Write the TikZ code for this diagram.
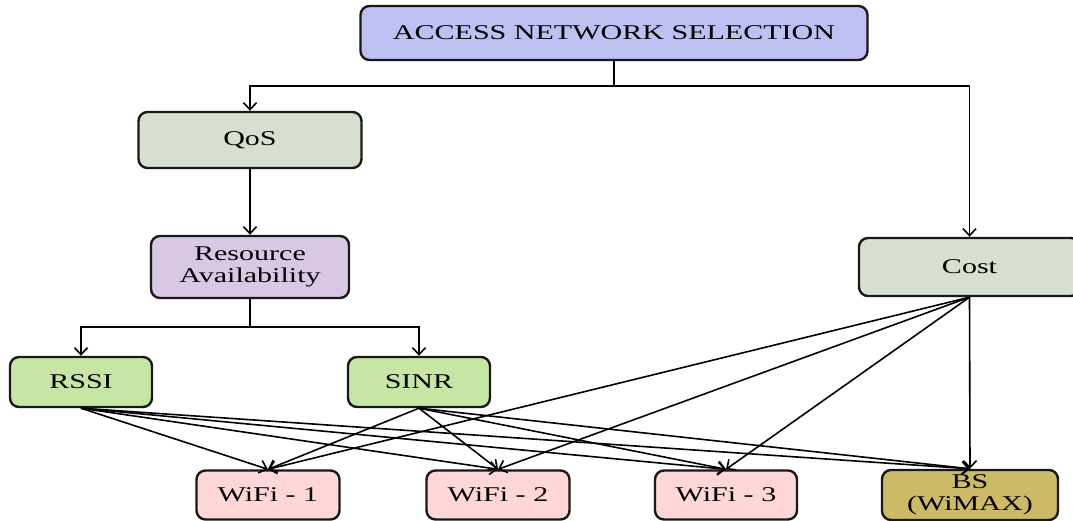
\documentclass[tikz,border=0pt]{standalone}
\usepackage{fontspec}
\setmainfont{Liberation Serif}[FakeStretch=1.43]
\usetikzlibrary{arrows.meta}
\definecolor{ansfill}{RGB}{191,192,242}
\definecolor{qosfill}{RGB}{215,224,206}
\definecolor{rafill}{RGB}{217,200,228}
\definecolor{sigfill}{RGB}{199,230,166}
\definecolor{wififill}{RGB}{255,215,215}
\definecolor{bsfill}{RGB}{205,186,102}
\tikzset{
  box/.style={draw=black!90, line width=2.4pt, rounded corners=9pt, align=center,
    font=\fontsize{21}{22}\selectfont, inner sep=0pt},
  arr/.style={line width=1.6pt, -{Straight Barb[length=7pt,width=13pt,line width=1.6pt]}},
}
\begin{document}
\begin{tikzpicture}[x=1pt,y=-1pt]
\useasboundingbox (0,0) rectangle (1073,521);
\begin{scope}
\clip (0,0) rectangle (1073,521);
\node[box, fill=ansfill, minimum width=507pt, minimum height=54pt] (ans) at (614,33) {ACCESS NETWORK SELECTION};
\node[box, fill=qosfill, minimum width=223pt, minimum height=56pt] (qos) at (250,140) {QoS};
\node[box, fill=rafill, minimum width=198pt, minimum height=62pt] (ra) at (250,267) {Resource\\Availability};
\node[box, fill=qosfill, minimum width=221pt, minimum height=58pt] (cost) at (969.5,267) {Cost};
\node[box, fill=sigfill, minimum width=142pt, minimum height=50pt] (rssi) at (81,382) {RSSI};
\node[box, fill=sigfill, minimum width=142pt, minimum height=50pt] (sinr) at (419,382) {SINR};
\node[box, fill=wififill, minimum width=143pt, minimum height=49pt] (w1) at (268,495) {WiFi - 1};
\node[box, fill=wififill, minimum width=143pt, minimum height=49pt] (w2) at (498,495) {WiFi - 2};
\node[box, fill=wififill, minimum width=142pt, minimum height=49pt] (w3) at (726,495) {WiFi - 3};
\node[box, fill=bsfill, minimum width=176pt, minimum height=50pt, text depth=4pt] (bs) at (970,495) {BS\\(WiMAX)};

\coordinate (split) at (614,86);
\coordinate (split2) at (250,327);
\draw[arr] (ans.south) -- (split) -| (qos.north);
\draw[arr] (split) -| (cost.north);
\draw[arr] (qos.south) -- (ra.north);
\draw[arr] (ra.south) -- (split2) -| (rssi.north);
\draw[arr] (split2) -| (sinr.north);

\foreach \s in {rssi,sinr,cost}{
  \foreach \t in {w1,w2,w3,bs}{
    \draw[arr] (\s.south) -- (\t.north);
  }
}
\end{scope}
\end{tikzpicture}
\end{document}
